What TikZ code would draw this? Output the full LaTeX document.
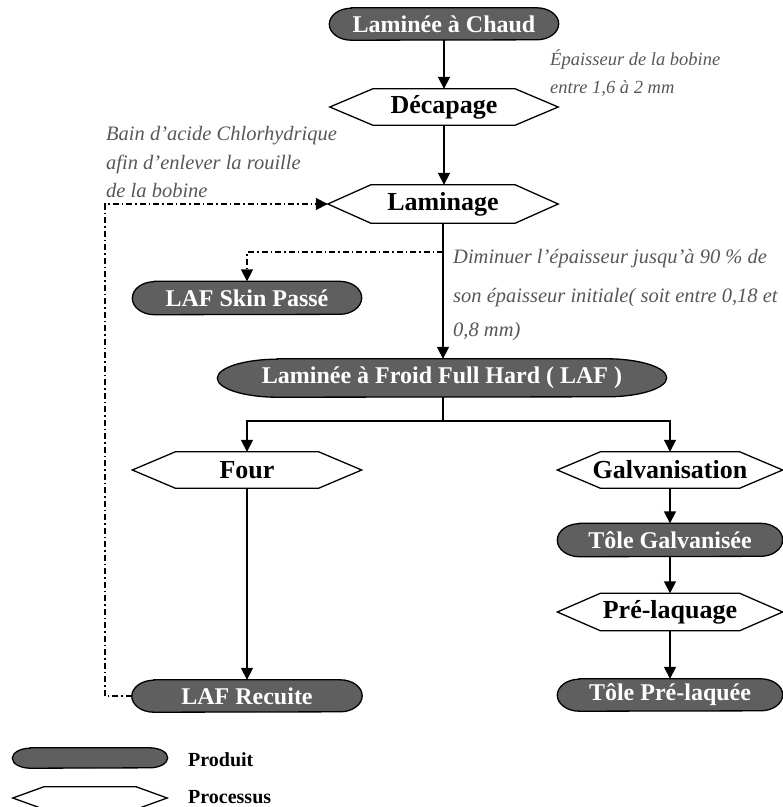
\documentclass[tikz,border=0pt]{standalone}
\usepackage{fontspec}
\setmainfont{Liberation Serif}
\usetikzlibrary{arrows.meta}
\pgfdeclarelayer{background}
\pgfsetlayers{background,main}
\definecolor{prodgray}{HTML}{5F5F5F}
\definecolor{notegray}{HTML}{575757}
\newcommand\pillnode[7]{%
  \node[pilltext, minimum width=#4pt, minimum height=#5pt] (#1) at (#2,#3) {#7};
  \begin{pgfonlayer}{background}
  \filldraw[pillshape] ([xshift=#6pt]#1.north west) -- ([xshift=-#6pt]#1.north east)
    arc[start angle=90,end angle=-90,x radius=#6pt,y radius=#5pt/2]
    -- ([xshift=#6pt]#1.south west)
    arc[start angle=270,end angle=90,x radius=#6pt,y radius=#5pt/2] -- cycle;
  \end{pgfonlayer}}
\newcommand\hexnode[7]{%
  \node[hexlabel, minimum width=#4pt, minimum height=#5pt] (#1) at (#2,#3) {#7};
  \begin{pgfonlayer}{background}
  \filldraw[hexline] (#1.west) -- ([xshift=#6pt]#1.north west) -- ([xshift=-#6pt]#1.north east)
    -- (#1.east) -- ([xshift=-#6pt]#1.south east) -- ([xshift=#6pt]#1.south west) -- cycle;
  \end{pgfonlayer}}
\begin{document}
\begin{tikzpicture}[x=1pt,y=-1pt,
  pilltext/.style={text=white, font=\bfseries\fontsize{24}{27}\selectfont, inner sep=0pt},
  hexlabel/.style={text=black, font=\bfseries\fontsize{26}{29}\selectfont, inner sep=0pt},
  pillshape/.style={fill=prodgray, draw=black, line width=1.3pt},
  hexline/.style={fill=white, draw=black, line width=1.3pt},
  flow/.style={line width=1.6pt, -{Triangle[length=12pt,width=12pt]}},
  plain/.style={line width=1.6pt},
  dd/.style={line width=1.6pt, dash pattern=on 6pt off 3pt on 1.5pt off 3pt},
  note/.style={text=notegray, font=\itshape\fontsize{20.5}{24}\selectfont, inner sep=0pt},
  smallnote/.style={text=notegray, font=\itshape\fontsize{18.5}{22}\selectfont, inner sep=0pt},
  legend/.style={text=black, font=\bfseries\fontsize{20}{23}\selectfont, inner sep=0pt}]
\useasboundingbox (0,0) rectangle (783,807);

\pillnode{cha}{444}{24}{229}{32}{22}{Laminée à Chaud}
\hexnode{dec}{444}{107}{228}{36}{43}{Décapage}
\hexnode{lam}{443}{204}{230}{38}{43}{Laminage}
\pillnode{skin}{247}{298}{229}{33}{22}{LAF Skin Passé}
\pillnode{laf}{442}{378}{449}{38}{60}{Laminée à Froid Full Hard ( LAF )}
\hexnode{four}{247}{470}{229}{36}{43}{Four}
\hexnode{galv}{670}{470}{225}{36}{43}{Galvanisation}
\pillnode{tg}{670}{540}{225}{33}{22}{Tôle Galvanisée}
\hexnode{pre}{670}{612}{225}{37}{43}{Pré-laquage}
\pillnode{tp}{670}{695}{225}{32}{22}{Tôle Pré-laquée}
\pillnode{rec}{247}{696}{230}{32}{22}{LAF Recuite}

\pillnode{lgp}{90}{758}{155}{20}{18}{}
\hexnode{lgh}{90}{798}{154}{22}{31}{}
\node[legend, anchor=base west] (lt1) at (188,766) {Produit};
\node[legend, anchor=base west] (lt2) at (188,803) {Processus};

\node[smallnote, anchor=base west] (e1) at (550,65) {Épaisseur de la bobine};
\node[smallnote, anchor=base west] (e2) at (550,93) {entre 1,6 à 2 mm};
\node[note, anchor=base west] (b1) at (106,140) {Bain d’acide Chlorhydrique};
\node[note, anchor=base west] (b2) at (106,169) {afin d’enlever la rouille};
\node[note, anchor=base west] (b3) at (106,197) {de la bobine};
\node[note, anchor=base west] (d1) at (453,263) {Diminuer l’épaisseur jusqu’à 90 \% de};
\node[note, anchor=base west] (d2) at (453,302) {son épaisseur initiale( soit entre 0,18 et};
\node[note, anchor=base west] (d3) at (453,336) {0,8 mm)};

\coordinate (sk) at (443,252);
\coordinate (split) at (443,421);
\coordinate (lp) at (105,696);

\draw[flow] (cha.south) -- (dec.north);
\draw[flow] (dec.south) -- (lam.north -| dec.south);
\draw[flow] (lam.south) -- (laf.north -| lam.south);
\draw[dd, -{Triangle[length=12pt,width=12pt]}] (sk) -| (skin.north);
\draw[plain] (laf.south -| split) -- (split);
\draw[flow] (split) -| (four.north);
\draw[flow] (split) -| (galv.north);
\draw[flow] (four.south) -- (rec.north);
\draw[flow] (galv.south) -- (tg.north);
\draw[flow] (tg.south) -- (pre.north);
\draw[flow] (pre.south) -- (tp.north);
\draw[dd, -{Triangle[length=12pt,width=12pt]}] (rec.west) -- (lp) |- (lam.west);
\end{tikzpicture}
\end{document}
